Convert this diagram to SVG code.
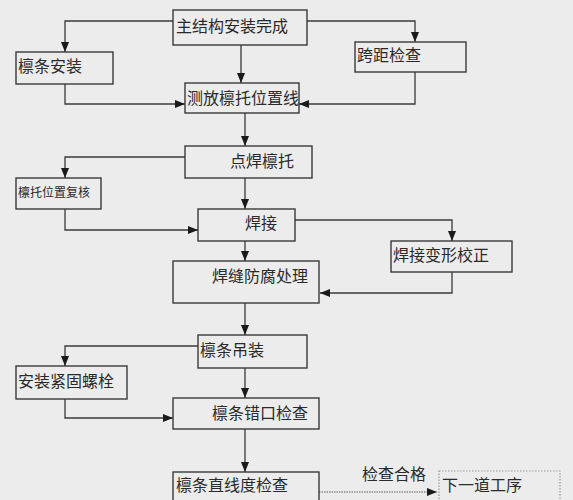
<svg xmlns="http://www.w3.org/2000/svg" width="573" height="500" viewBox="0 0 573 500">
<defs>
<style>
.box{fill:#ececec;stroke:#3a3a3a;stroke-width:1.4}
.dbox{fill:#ececec;stroke:#9a9a9a;stroke-width:1.2;stroke-dasharray:1.5 1.5}
.t{font-family:"Noto Sans CJK SC","Noto Sans",sans-serif;font-size:16px;fill:#2a2a2a}
.s{font-size:12px}
.c{fill:none;stroke:#3a3a3a;stroke-width:1.3}
.d{fill:none;stroke:#8a8a8a;stroke-width:1.3;stroke-dasharray:1.5 1}
</style>
<marker id="a" viewBox="0 0 10 10" refX="10" refY="5" markerWidth="10" markerHeight="10" markerUnits="userSpaceOnUse" orient="auto">
<path d="M0,1 L10,5 L0,9 Z" fill="#1a1a1a"/>
</marker>
</defs>
<rect width="573" height="500" fill="#ececec"/>
<g id="connectors">
<path class="c" d="M173,21 H65 V52" marker-end="url(#a)"/>
<path class="c" d="M307,21 H415 V42" marker-end="url(#a)"/>
<path class="c" d="M241,45 V83" marker-end="url(#a)"/>
<path class="c" d="M65,84 V104 H185" marker-end="url(#a)"/>
<path class="c" d="M415,72 V104 H299" marker-end="url(#a)"/>
<path class="c" d="M245,113 V146" marker-end="url(#a)"/>
<path class="c" d="M185,157 H65 V178" marker-end="url(#a)"/>
<path class="c" d="M245,178 V209" marker-end="url(#a)"/>
<path class="c" d="M65,209 V230 H198" marker-end="url(#a)"/>
<path class="c" d="M295,220 H452 V241" marker-end="url(#a)"/>
<path class="c" d="M452,272 V293 H320" marker-end="url(#a)"/>
<path class="c" d="M245,241 V261" marker-end="url(#a)"/>
<path class="c" d="M245,303 V335" marker-end="url(#a)"/>
<path class="c" d="M198,346 H65 V366" marker-end="url(#a)"/>
<path class="c" d="M245,368 V398" marker-end="url(#a)"/>
<path class="c" d="M65,399 V418 H173" marker-end="url(#a)"/>
<path class="c" d="M245,429 V472" marker-end="url(#a)"/>
<path class="d" d="M319,492 H437" marker-end="url(#a)"/>
<text class="t" x="362" y="480">检查合格</text>
</g>
<g id="n1"><rect class="box" x="173" y="10" width="134" height="35"/><text class="t" x="176" y="32">主结构安装完成</text></g>
<g id="n2"><rect class="box" x="16" y="52" width="97" height="32"/><text class="t" x="18" y="72">檩条安装</text></g>
<g id="n3"><rect class="box" x="355" y="42" width="111" height="30"/><text class="t" x="357" y="61">跨距检查</text></g>
<g id="n4"><rect class="box" x="185" y="83" width="114" height="30"/><text class="t" x="187" y="104">测放檩托位置线</text></g>
<g id="n5"><rect class="box" x="185" y="146" width="127" height="32"/><text class="t" x="230" y="167">点焊檩托</text></g>
<g id="n6"><rect class="box" x="16" y="178" width="85" height="31"/><text class="t s" x="18" y="197">檩托位置复核</text></g>
<g id="n7"><rect class="box" x="198" y="209" width="97" height="32"/><text class="t" x="245" y="229">焊接</text></g>
<g id="n8"><rect class="box" x="391" y="241" width="121" height="31"/><text class="t" x="393" y="261">焊接变形校正</text></g>
<g id="n9"><rect class="box" x="173" y="261" width="146" height="42"/><text class="t" x="212" y="282">焊缝防腐处理</text></g>
<g id="n10"><rect class="box" x="198" y="335" width="109" height="33"/><text class="t" x="200" y="356">檩条吊装</text></g>
<g id="n11"><rect class="box" x="16" y="366" width="111" height="33"/><text class="t" x="18" y="387">安装紧固螺栓</text></g>
<g id="n12"><rect class="box" x="173" y="398" width="146" height="31"/><text class="t" x="212" y="419">檩条错口检查</text></g>
<g id="n13"><rect class="box" x="173" y="472" width="146" height="40"/><text class="t" x="176" y="491">檩条直线度检查</text></g>
<g id="n14"><rect class="dbox" x="439" y="471" width="121" height="40"/><text class="t" x="442" y="491">下一道工序</text></g>
</svg>
